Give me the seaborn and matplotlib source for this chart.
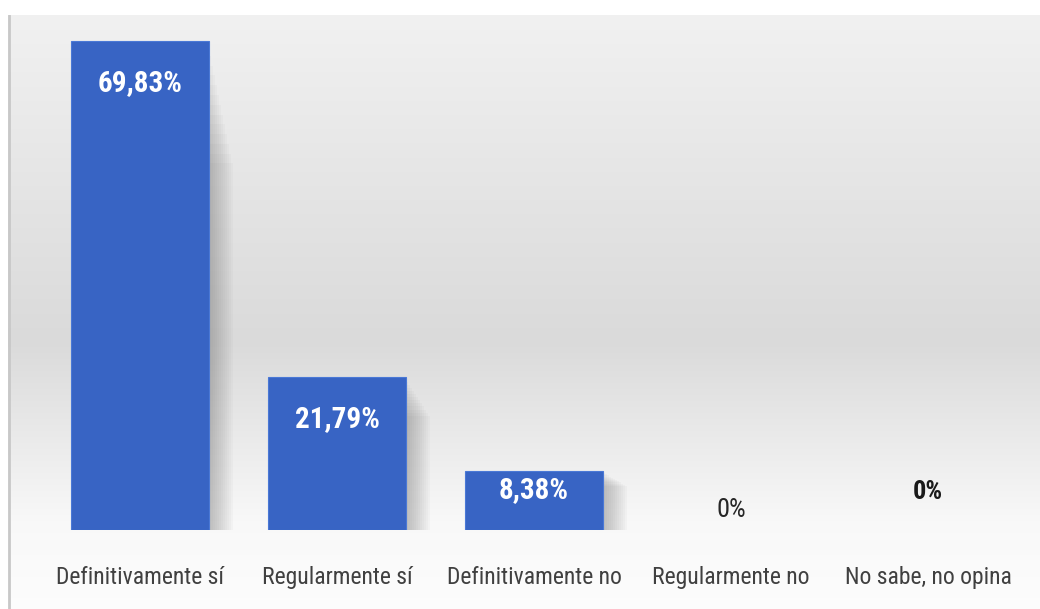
import numpy as np
import pandas as pd
import matplotlib
matplotlib.use("Agg")
import matplotlib.pyplot as plt
from matplotlib import font_manager
from matplotlib.patches import Rectangle
import seaborn as sns

categories = ["Definitivamente sí", "Regularmente sí", "Definitivamente no",
              "Regularmente no", "No sabe, no opina"]
values = [69.83, 21.79, 8.38, 0.0, 0.0]
labels = ["69,83%", "21,79%", "8,38%", "0%", "0%"]

sns.set_theme(style="white")
avail = {f.name for f in font_manager.fontManager.ttflist}
fam = "DejaVu Sans"
for cand in ["Liberation Sans Narrow", "Roboto Condensed", "Open Sans Condensed", "Noto Sans", "Liberation Sans"]:
    if cand in avail:
        fam = cand
        break
plt.rcParams["font.family"] = [fam, "DejaVu Sans"]

W, H = 1040, 609
fig = plt.figure(figsize=(W / 100, H / 100), dpi=100)
fig.patch.set_facecolor("white")

# background gradient panel
bg = fig.add_axes([8 / W, 0, 1 - 8 / W, (H - 15) / H])
ys = np.linspace(0, 1, 300)  # 0 = top
stops_y = [0.0, 0.55, 0.86, 1.0]
stops_v = [0.945, 0.855, 0.975, 0.99]
col = np.interp(ys, stops_y, stops_v)
img = np.repeat(col[:, None], 2, axis=1)
bg.imshow(np.dstack([img, img, img]), aspect="auto", extent=[0, 1, 0, 1], interpolation="bilinear")
bg.axvline(0.001, color="#c8c8c8", lw=2)
bg.set_axis_off()

# main axes
bottom_px, top_px = 530, 15
ax = fig.add_axes([8 / W, (H - bottom_px) / H, 1 - 8 / W, (bottom_px - top_px) / H])
ax.set_facecolor("none")

df = pd.DataFrame({"cat": categories, "val": values})
sns.barplot(data=df, x="cat", y="val", color="#3864c4", saturation=1, width=0.7,
            ax=ax, edgecolor="#4a78d6", linewidth=0.8, zorder=3)

ax.set_xlim(-(140 - 8) / 197, (1040 - 140) / 197)
ax.set_ylim(0, (bottom_px - top_px) / 7.0)

# soft, fading shadows to the right of bars
for p in list(ax.patches):
    x0, w, h = p.get_x(), p.get_width(), p.get_height()
    if h <= 0:
        p.set_linewidth(0)
        continue
    for k in range(12):
        off = 0.010 * (k + 1)
        ax.add_patch(Rectangle((x0 + off, 0), w, h * (0.97 - 0.02 * k), facecolor="#606060",
                               alpha=0.035, edgecolor="none", zorder=2))

for i, (v, lab) in enumerate(zip(values, labels)):
    if v > 12:
        ax.text(i, v - 6, lab, ha="center", va="center", color="white",
                fontsize=21, fontweight="semibold", zorder=5)
    elif v > 0:
        ax.text(i, v * 0.68, lab, ha="center", va="center", color="white",
                fontsize=21, fontweight="semibold", zorder=5)

ax.text(3, 2.85, labels[3], ha="center", va="center", color="#262626", fontsize=19, zorder=5)
ax.text(4, 5.4, labels[4], ha="center", va="center", color="#1a1a1a", fontsize=19,
        fontweight="bold", zorder=5)

ax.set_xlabel("")
ax.set_ylabel("")
ax.set_yticks([])
ax.tick_params(axis="x", length=0, pad=26, labelsize=17, labelcolor="#404040")
for s in ax.spines.values():
    s.set_visible(False)

fig.savefig("out.png", dpi=100)
